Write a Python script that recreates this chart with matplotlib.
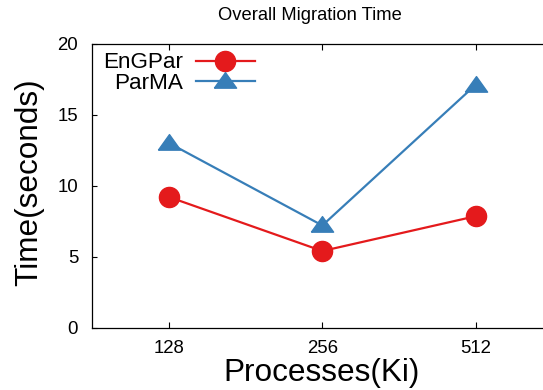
import matplotlib
matplotlib.use("Agg")
import matplotlib.pyplot as plt
import numpy as np

plt.rcParams['font.family'] = ['Liberation Sans', 'DejaVu Sans']

categories = ["128", "256", "512"]
engpar = [9.2, 5.4, 7.85]
parma = [13.0, 7.2, 17.1]
yticks = [0, 5, 10, 15, 20]

red = "#e41a1c"
blue = "#377eb8"

fig = plt.figure(figsize=(5.43, 3.90), dpi=100)
ax = fig.add_axes([92/543, 1-327.7/390, 1-92/543, (327.7-43.7)/390])

x = np.arange(len(categories))
tri = [(-1, -0.6), (1, -0.6), (0, 0.8), (-1, -0.6)]
ax.plot(x, engpar, color=red, lw=1.6, marker='o', markersize=14.5, label="EnGPar")
ax.plot(x, parma, color=blue, lw=1.6, marker=tri, markersize=16, label="ParMA")

ax.set_xlim(-0.503, 2.44)
ax.set_ylim(0, 20)
ax.set_xticks(x)
ax.set_xticklabels(categories)
ax.set_yticks(yticks)
ax.tick_params(axis='x', direction='in', length=4.5, width=0.8, top=True, labelsize=13.4, pad=9)
ax.tick_params(axis='y', direction='in', length=3.5, width=0.8, labelsize=13.4, pad=10)
ax.spines['right'].set_visible(False)
for s in ['left', 'bottom', 'top']:
    ax.spines[s].set_linewidth(0.9)

fig.text(322/543, 1-373/390, "Processes(Ki)", ha='center', va='center', fontsize=22.7)
fig.text(29/543, 1-182/390, "Time(seconds)", ha='center', va='center', rotation=90, fontsize=22.7)
fig.text(310/543, 1-15/390, "Overall Migration Time", ha='center', va='center', fontsize=13.2)

ax.legend(loc='upper left', markerfirst=False, frameon=False, fontsize=16.2,
          handlelength=2.6, labelspacing=-0.04, borderaxespad=0.0, handletextpad=0.6,
          bbox_to_anchor=(0.004, 1.001))

fig.savefig("out.png", dpi=100)
